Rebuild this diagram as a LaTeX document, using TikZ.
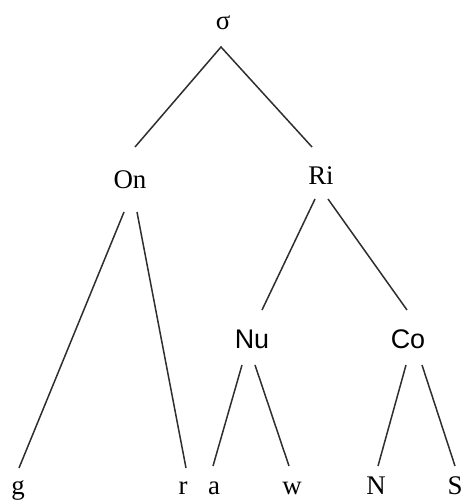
\documentclass[tikz,border=0pt]{standalone}
\usepackage{fontspec}
\setmainfont{Liberation Serif}
\newfontfamily\arialfont{Liberation Sans}
\begin{document}
\begin{tikzpicture}[x=1bp,y=-1bp,
  lab/.style={font=\fontsize{27}{30}\selectfont, inner sep=0pt, anchor=base},
  sanslab/.style={lab, font=\arialfont\fontsize{27}{30}\selectfont},
  edge/.style={line width=1.5bp, draw=black!82}]
\useasboundingbox (0,0) rectangle (464,502);

% labels
\node[lab] (sigma) at (223,30) {σ};
\node[lab] (on) at (130,189) {On};
\node[lab] (ri) at (321,185) {Ri};
\node[sanslab] (nu) at (252,348) {Nu};
\node[sanslab] (co) at (408,348) {Co};
\node[lab] (g) at (18,494) {g};
\node[lab] (r) at (183,494) {r};
\node[lab] (a) at (214,494) {a};
\node[lab] (w) at (292,494) {w};
\node[lab] (n) at (376,494) {N};
\node[lab] (s) at (455,494) {S};

% branch end points
\coordinate (sigma-b) at (221,47);
\coordinate (on-t) at (135,147);
\coordinate (ri-t) at (312,147);
\coordinate (on-bl) at (124,212);
\coordinate (on-br) at (137,212);
\coordinate (g-t) at (19,468);
\coordinate (r-t) at (186,468);
\coordinate (ri-bl) at (315,199);
\coordinate (ri-br) at (328,199);
\coordinate (nu-t) at (262,310);
\coordinate (co-t) at (407,310);
\coordinate (nu-bl) at (242,365);
\coordinate (nu-br) at (255,365);
\coordinate (a-t) at (213,466);
\coordinate (w-t) at (289,466);
\coordinate (co-bl) at (406,365);
\coordinate (co-br) at (422,365);
\coordinate (n-t) at (378,466);
\coordinate (s-t) at (455,466);

% branches
\draw[edge] (on-t) -- (sigma-b) -- (ri-t);
\draw[edge] (on-bl) -- (g-t);
\draw[edge] (on-br) -- (r-t);
\draw[edge] (ri-bl) -- (nu-t);
\draw[edge] (ri-br) -- (co-t);
\draw[edge] (nu-bl) -- (a-t);
\draw[edge] (nu-br) -- (w-t);
\draw[edge] (co-bl) -- (n-t);
\draw[edge] (co-br) -- (s-t);
\end{tikzpicture}
\end{document}
